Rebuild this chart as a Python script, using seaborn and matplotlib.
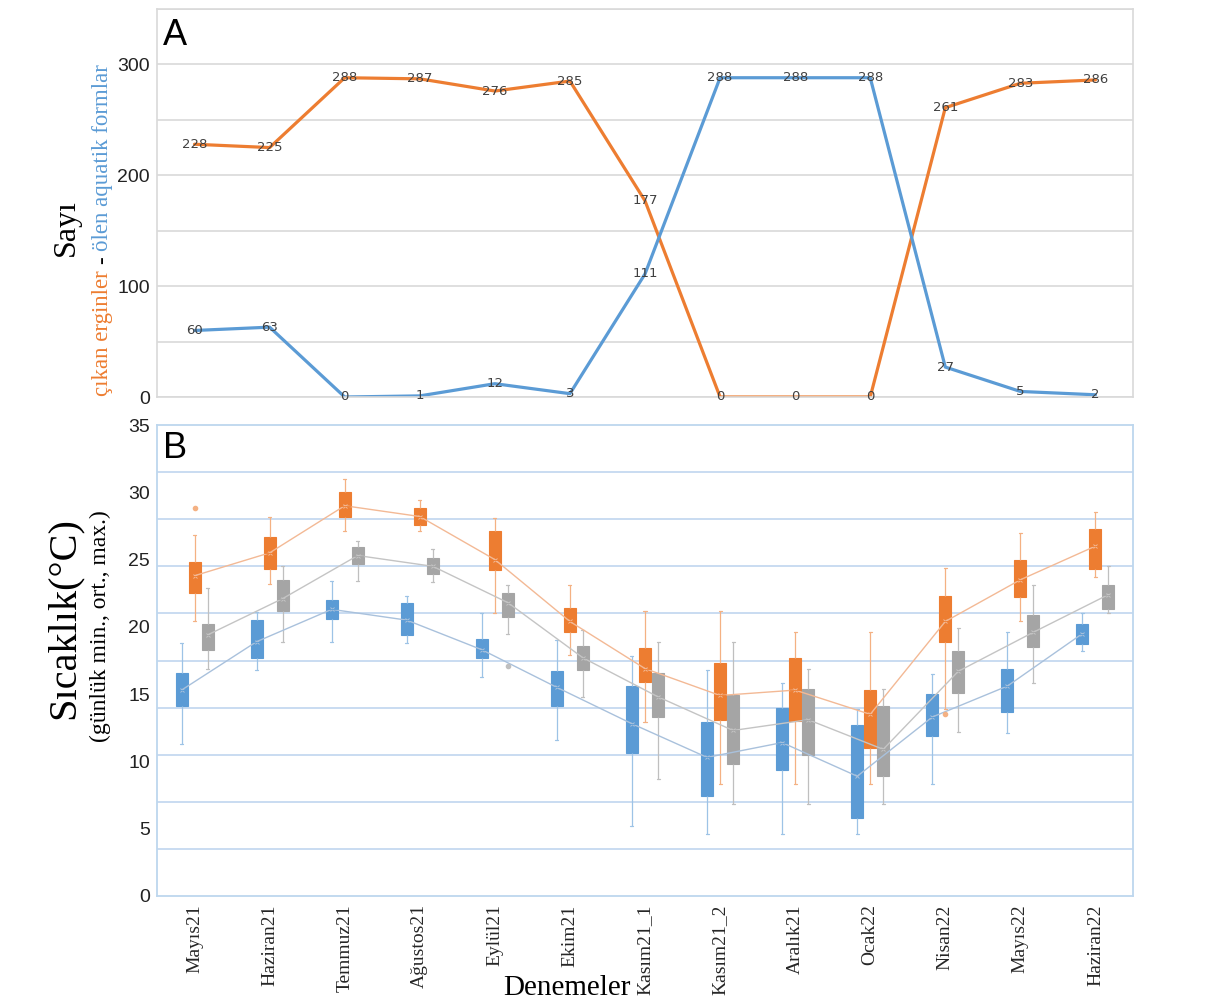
import numpy as np
import pandas as pd
import matplotlib
matplotlib.use("Agg")
import matplotlib.pyplot as plt
import seaborn as sns

# ---------------- data ----------------
denemeler = ["Mayıs21", "Haziran21", "Temmuz21", "Ağustos21", "Eylül21", "Ekim21",
             "Kasım21_1", "Kasım21_2", "Aralık21", "Ocak22", "Nisan22", "Mayıs22",
             "Haziran22"]

# Panel A: counts per trial
cikan_erginler = [228, 225, 288, 287, 276, 285, 177, 0, 0, 0, 261, 283, 286]
olen_aquatik = [60, 63, 0, 1, 12, 3, 111, 288, 288, 288, 27, 5, 2]

# Panel B: daily temperature summaries (whisker low, Q1, median, Q3, whisker high, mean)
seriler = ["min", "max", "ort"]

min_alt = [11.3, 16.8, 18.9, 18.8, 16.3, 11.6, 5.2, 4.6, 4.6, 4.6, 8.3, 12.1, 18.2]
min_q1 = [14.1, 17.7, 20.6, 19.4, 17.7, 14.1, 10.6, 7.4, 9.4, 5.8, 11.9, 13.7, 18.7]
min_medyan = [15.3, 18.9, 21.3, 20.5, 18.3, 15.5, 12.8, 10.3, 11.4, 7.6, 13.3, 15.6, 19.5]
min_q3 = [16.6, 20.5, 22.0, 21.8, 19.1, 16.7, 15.6, 12.9, 14.0, 12.7, 15.0, 16.9, 20.2]
min_ust = [18.8, 21.1, 23.4, 22.3, 21.0, 19.0, 17.8, 16.8, 15.8, 13.9, 16.5, 19.6, 21.0]
min_ort = [15.3, 18.9, 21.3, 20.5, 18.3, 15.5, 12.8, 10.3, 11.4, 8.9, 13.3, 15.6, 19.5]

max_alt = [20.4, 23.2, 27.1, 27.1, 21.0, 17.9, 12.9, 8.3, 8.3, 8.3, 13.9, 20.4, 23.7]
max_q1 = [22.5, 24.3, 28.2, 27.6, 24.2, 19.6, 15.9, 13.1, 13.0, 11.0, 18.9, 22.2, 24.3]
max_medyan = [23.8, 25.5, 29.0, 28.2, 25.0, 20.4, 16.9, 14.9, 15.3, 13.5, 20.4, 23.5, 26.0]
max_q3 = [24.8, 26.7, 30.0, 28.8, 27.1, 21.4, 18.4, 17.3, 17.7, 15.3, 22.3, 25.0, 27.3]
max_ust = [26.8, 28.2, 31.0, 29.4, 28.1, 23.1, 21.2, 21.2, 19.6, 19.6, 24.4, 27.0, 28.5]
max_ort = [23.8, 25.5, 29.0, 28.2, 25.0, 20.4, 16.9, 14.9, 15.3, 13.5, 20.4, 23.5, 26.0]

ort_alt = [16.9, 18.9, 23.4, 23.3, 19.5, 14.8, 8.7, 6.8, 6.8, 6.8, 12.2, 15.8, 21.0]
ort_q1 = [18.3, 21.2, 24.7, 23.9, 20.7, 16.8, 13.3, 9.8, 10.5, 8.9, 15.1, 18.5, 21.3]
ort_medyan = [19.4, 22.1, 25.3, 24.5, 21.8, 17.7, 14.8, 12.3, 13.1, 10.9, 16.7, 19.6, 22.4]
ort_q3 = [20.2, 23.5, 25.9, 25.1, 22.5, 18.6, 16.6, 14.9, 15.4, 14.1, 18.2, 20.9, 23.1]
ort_ust = [22.9, 24.5, 26.4, 25.8, 23.1, 19.8, 18.9, 18.9, 16.9, 15.4, 19.9, 23.1, 24.5]
ort_ort = [19.4, 22.1, 25.3, 24.5, 21.8, 17.7, 14.8, 12.3, 13.1, 10.9, 16.7, 19.6, 22.4]

# outlying daily values
aykiri_deneme = ["Mayıs21", "Eylül21", "Nisan22"]
aykiri_seri = ["max", "ort", "max"]
aykiri_deger = [28.8, 17.1, 13.5]

# ---------------- styling ----------------
W, H = 1210, 1001
TURUNCU = "#ED7D31"
MAVI = "#5B9BD5"
GRI = "#A5A5A5"
kutu_renk = {"min": MAVI, "max": TURUNCU, "ort": GRI}
biyik_renk = {"min": "#9DC3E6", "max": "#F4B183", "ort": "#BFBFBF"}
hat_renk = {"min": "#A9C1DC", "max": "#F3B995", "ort": "#C4C4C4"}
SERIF = ["Liberation Serif", "DejaVu Serif"]
SANS = ["Liberation Sans", "DejaVu Sans"]

sns.set_theme(style="white")
plt.rcParams["font.family"] = SANS

fig = plt.figure(figsize=(W / 100, H / 100), dpi=100)
axA = fig.add_axes([157 / W, 1 - 397 / H, 976 / W, 388 / H])
axB = fig.add_axes([157 / W, 1 - 896 / H, 976 / W, 471 / H])

n = len(denemeler)

# ---------------- panel A ----------------
dfA = pd.DataFrame({
    "x": list(range(n)) * 2,
    "Sayı": cikan_erginler + olen_aquatik,
    "Seri": ["çıkan erginler"] * n + ["ölen aquatik formlar"] * n,
})
sns.lineplot(data=dfA, x="x", y="Sayı", hue="Seri",
             palette={"çıkan erginler": TURUNCU, "ölen aquatik formlar": MAVI},
             linewidth=2.3, legend=False, ax=axA)
for i in range(n):
    for v in (cikan_erginler[i], olen_aquatik[i]):
        axA.text(i, v, str(v), ha="center", va="center", fontsize=9.5,
                 color="#404040", family="DejaVu Sans")

axA.set_xlim(-0.5, n - 0.5)
axA.set_ylim(0, 350)
axA.set_xticks([])
axA.set_xlabel("")
axA.set_ylabel("")
axA.set_yticks(np.arange(0, 351, 50))
axA.set_yticklabels([str(t) if t % 100 == 0 and t < 350 else "" for t in range(0, 351, 50)])
axA.grid(axis="y", color="#D9D9D9", linewidth=1.2)
axA.set_axisbelow(True)
axA.tick_params(axis="y", length=0, labelsize=14, pad=5, labelcolor="#222222")
for sp in axA.spines.values():
    sp.set_color("#D9D9D9")
    sp.set_linewidth(1.2)

# ---------------- panel B ----------------
kutular = {
    "min": (min_alt, min_q1, min_medyan, min_q3, min_ust),
    "max": (max_alt, max_q1, max_medyan, max_q3, max_ust),
    "ort": (ort_alt, ort_q1, ort_medyan, ort_q3, ort_ust),
}
satirlar = []
for seri, kolonlar in kutular.items():
    for i, d in enumerate(denemeler):
        for kol in kolonlar:
            satirlar.append((d, seri, kol[i]))
dfB = pd.DataFrame(satirlar, columns=["Deneme", "Seri", "Sıcaklık"])

for seri in seriler:
    sns.boxplot(data=dfB[dfB["Seri"] == seri], x="Deneme", y="Sıcaklık", hue="Seri",
                order=denemeler, hue_order=seriler, palette=kutu_renk, saturation=1,
                width=0.52, gap=0.08, dodge=True, whis=(0, 100), showfliers=False,
                linecolor=biyik_renk[seri], linewidth=0.9,
                boxprops={"edgecolor": kutu_renk[seri], "linewidth": 0.8},
                medianprops={"color": kutu_renk[seri], "linewidth": 0.6},
                capwidths=0.04, legend=False, ax=axB)

dfM = pd.DataFrame({
    "Deneme": denemeler * 3,
    "Seri": ["min"] * n + ["max"] * n + ["ort"] * n,
    "Sıcaklık": min_ort + max_ort + ort_ort,
})
sns.pointplot(data=dfM, x="Deneme", y="Sıcaklık", hue="Seri", order=denemeler,
              hue_order=seriler, palette=hat_renk, dodge=0.3467, errorbar=None,
              markers="x", markersize=2.5, markeredgewidth=0.7, linewidth=1.0,
              legend=False, ax=axB)

dfF = pd.DataFrame({"Deneme": aykiri_deneme, "Seri": aykiri_seri, "Sıcaklık": aykiri_deger})
sns.pointplot(data=dfF, x="Deneme", y="Sıcaklık", hue="Seri", order=denemeler,
              hue_order=seriler, palette=biyik_renk, dodge=0.3467, errorbar=None,
              linestyle="none", markers="o", markersize=2.0, legend=False, ax=axB)

axB.set_xlim(-0.5, n - 0.5)
axB.set_ylim(0, 35)
axB.set_yticks(np.arange(0, 36, 5))
axB.set_yticks(np.arange(0, 35.01, 3.5), minor=True)
axB.yaxis.grid(False, which="major")
axB.yaxis.grid(True, which="minor", color="#C5D9F0", linewidth=1.3)
axB.xaxis.grid(False)
axB.set_axisbelow(True)
axB.tick_params(axis="y", which="both", length=0, labelsize=14, pad=5, labelcolor="#222222")
axB.tick_params(axis="x", length=0, pad=6)
axB.set_xticks(range(n))
axB.set_xticklabels(denemeler, rotation=90, family=SERIF, fontsize=14, va="top")
axB.set_xlabel("")
axB.set_ylabel("")
for sp in axB.spines.values():
    sp.set_color("#BDD7EE")
    sp.set_linewidth(1.3)

# ---------------- panel letters and axis titles ----------------
fig.text(163 / W, 1 - 45 / H, "A", fontsize=26, ha="left", va="baseline", color="black")
fig.text(163 / W, 1 - 458 / H, "B", fontsize=26, ha="left", va="baseline", color="black")

fig.text(66 / W, 1 - 228 / H, "Sayı", rotation=90, ha="center", va="center",
         family=SERIF, fontsize=23, color="black")

# multi-coloured rotated label built from consecutive pieces
renderer = fig.canvas.get_renderer()
parcalar = [("çıkan erginler", TURUNCU), ("-", "black"), ("ölen aquatik formlar", MAVI)]
boyut = 16.5
bosluk = 0.25 * boyut * 100 / 72
uzunluklar = []
for metin, _ in parcalar:
    t = fig.text(0, 0, metin, rotation=90, family=SERIF, fontsize=boyut)
    uzunluklar.append(t.get_window_extent(renderer).height)
    t.remove()
toplam = sum(uzunluklar) + bosluk * (len(parcalar) - 1)
y_px = (H - 230) - toplam / 2
x_px = 108
for (metin, renk), uz in zip(parcalar, uzunluklar):
    fig.text(x_px / W, y_px / H, metin, rotation=90, rotation_mode="anchor",
             ha="left", va="baseline", family=SERIF, fontsize=boyut, color=renk)
    y_px += uz + bosluk

fig.text(64 / W, 1 - 618 / H, "Sıcaklık(°C)", rotation=90, ha="center", va="center",
         family=SERIF, fontsize=29, color="black")
fig.text(100 / W, 1 - 626 / H, "(günlük min., ort., max.)", rotation=90, ha="center",
         va="center", family=SERIF, fontsize=17, color="black")
fig.text(567 / W, 1 - 988 / H, "Denemeler", ha="center", va="center",
         family=SERIF, fontsize=21, color="black")

fig.savefig("out.png", dpi=100)
